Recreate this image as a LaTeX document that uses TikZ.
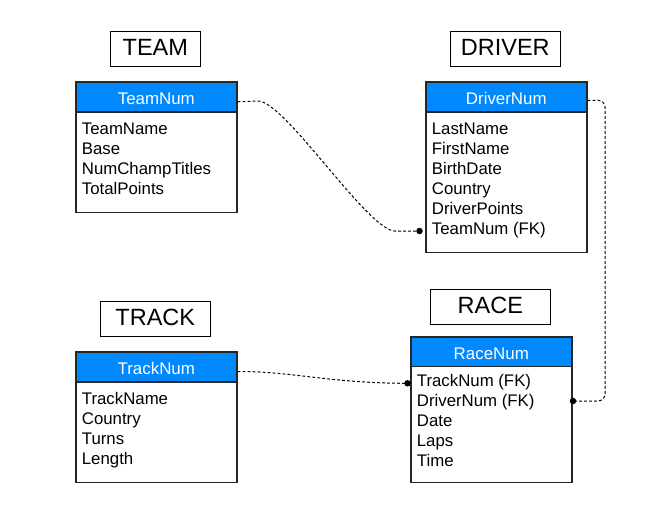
\documentclass[tikz,border=0pt]{standalone}
\usepackage{fontspec}
\setmainfont{Liberation Sans}
\definecolor{hdrblue}{RGB}{0,136,255}
\begin{document}
\begin{tikzpicture}[x=1pt,y=-1pt,
  title/.style={draw=black, line width=0.9pt, inner sep=0pt, font=\fontsize{23.5}{28}\selectfont,
    text height=14pt, text depth=0pt, minimum height=35pt},
  hdr/.style={draw=black!85, line width=1.6pt, fill=hdrblue, text=white, inner sep=0pt,
    font=\fontsize{16.9}{20}\selectfont, text height=15.4pt, text depth=0pt,
    minimum width=161pt, minimum height=30pt, anchor=north west},
  body/.style={draw=black!85, line width=1.6pt, fill=white, inner sep=0pt,
    minimum width=161pt, anchor=north west},
  field/.style={inner sep=0pt, anchor=base west, font=\fontsize{16.8}{20}\selectfont},
  conn/.style={draw=black, line width=1pt, dash pattern=on 2.8pt off 2.2pt},
  dot/.style={circle, fill=black, inner sep=0pt, minimum size=6.5pt}
]
\useasboundingbox (0,0) rectangle (668,530);

% titles
\node[title, minimum width=90.5pt] (tteam) at (155.3,48.6) {TEAM};
\node[title, minimum width=110.5pt] (tdriver) at (505.3,48.6) {DRIVER};
\node[title, minimum width=110.5pt] (ttrack) at (155.3,318.6) {TRACK};
\node[title, minimum width=120.5pt] (trace) at (490.3,306.8) {RACE};

% TEAM table
\node[body, minimum height=100.5pt] (tbody) at (75,111) {};
\node[hdr] (thdr) at (75,81) {TeamNum};
\node[field] (t1) at (81.7,134.3) {TeamName};
\node[field] (t2) at (81.7,154.3) {Base};
\node[field] (t3) at (81.7,174.3) {NumChampTitles};
\node[field] (t4) at (81.7,194.3) {TotalPoints};

% DRIVER table
\node[body, minimum height=140.5pt] (dbody) at (425,111) {};
\node[hdr] (dhdr) at (425,81) {DriverNum};
\node[field] (d1) at (431.7,134.3) {LastName};
\node[field] (d2) at (431.7,154.3) {FirstName};
\node[field] (d3) at (431.7,174.3) {BirthDate};
\node[field] (d4) at (431.7,194.3) {Country};
\node[field] (d5) at (431.7,214.3) {DriverPoints};
\node[field] (d6) at (431.7,234.3) {TeamNum (FK)};

% TRACK table
\node[body, minimum height=100.5pt] (kbody) at (75,381) {};
\node[hdr] (khdr) at (75,351) {TrackNum};
\node[field] (k1) at (81.7,404.1) {TrackName};
\node[field] (k2) at (81.7,424.1) {Country};
\node[field] (k3) at (81.7,444.1) {Turns};
\node[field] (k4) at (81.7,464.1) {Length};

% RACE table
\node[body, minimum height=116pt] (rbody) at (410,365.5) {};
\node[hdr, minimum height=29.5pt] (rhdr) at (410,336) {RaceNum};
\node[field] (r1) at (416.7,386.5) {TrackNum (FK)};
\node[field] (r2) at (416.7,406.5) {DriverNum (FK)};
\node[field] (r3) at (416.7,426.5) {Date};
\node[field] (r4) at (416.7,446.5) {Laps};
\node[field] (r5) at (416.7,466.5) {Time};

% connector end points
\coordinate (e1) at (419.5,231);
\coordinate (e2) at (573,401);
\coordinate (e3) at (407.5,383.3);

% connectors
\draw[conn] ([yshift=-5pt]thdr.east) -- (258,101) .. controls (285,101) and (368,231) .. (395,231) -- (e1);
\draw[conn, rounded corners=7pt] ([yshift=-3.5pt]dhdr.east) -| (605,401) -- (e2);
\draw[conn] ([yshift=-4.7pt]khdr.east) .. controls (290,371) and (330,383.3) .. (e3);

\node[dot] at (e1) {};
\node[dot] at (e2) {};
\node[dot] at (e3) {};
\end{tikzpicture}
\end{document}
